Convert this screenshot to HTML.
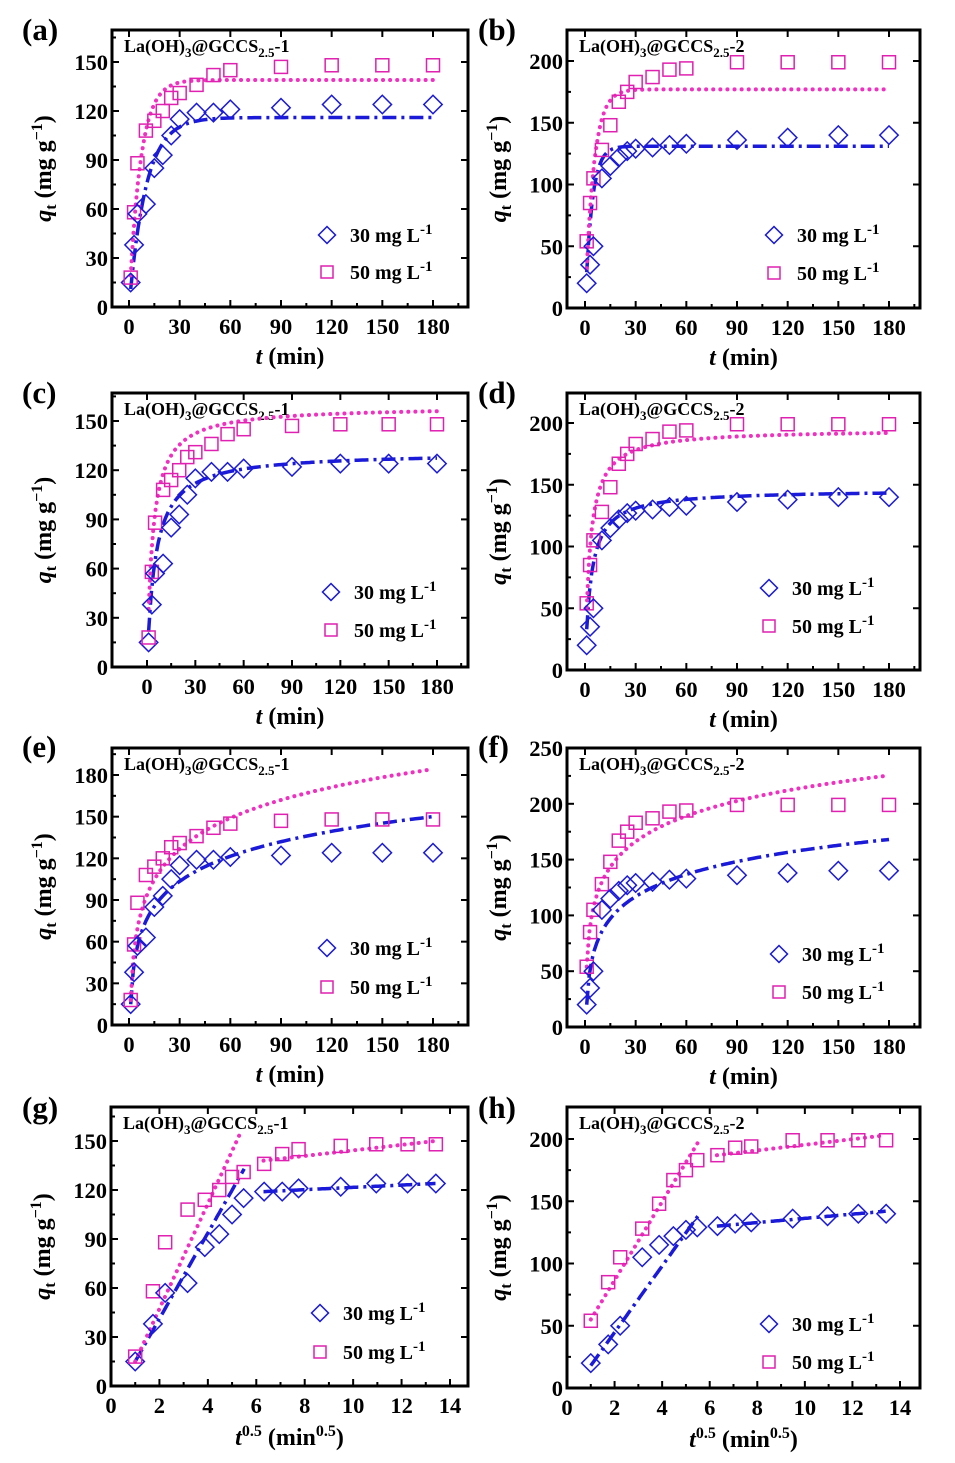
<!DOCTYPE html><html><head><meta charset="utf-8"><style>body{margin:0;background:#fff}svg{display:block}text{font-family:"Liberation Serif",serif;font-weight:bold}</style></head><body>
<svg id="s" width="955" height="1463" xmlns="http://www.w3.org/2000/svg"></svg>
<script>
const S=document.getElementById('s');let h='';
const T=[1,3,5,10,15,20,25,30,40,50,60,90,120,150,180];
const A30=[15,38,57,63,85,93,105,115,119,119,121,122,124,124,124],A50=[18,58,88,108,114,120,128,131,136,142,145,147,148,148,148];
const B30=[20,35,50,105,115,122,127,129,130,132,133,136,138,140,140],B50=[54,85,105,128,148,167,175,183,187,193,194,199,199,199,199];
function panel(o){
 const [L,R,Tp,B]=o.f; const X=v=>o.x0+(v)*(o.x1-o.x0)/o.xv, Y=v=>o.y0-(v)*(o.y0-o.y1)/o.yv;
 let g='';
 g+=`<rect x="${L}" y="${Tp}" width="${R-L}" height="${B-Tp}" fill="none" stroke="#000" stroke-width="3"/>`;
 o.xt.forEach(v=>{const x=X(v);g+=`<line x1="${x}" x2="${x}" y1="${B}" y2="${B-7}" stroke="#000" stroke-width="2"/><line x1="${x}" x2="${x}" y1="${Tp}" y2="${Tp+7}" stroke="#000" stroke-width="2"/><text x="${x}" y="${B+27}" font-size="22.5" text-anchor="middle">${v}</text>`;
  const m=X(v+o.xm/2);if(m<R-2)g+=`<line x1="${m}" x2="${m}" y1="${B}" y2="${B-4}" stroke="#000" stroke-width="2"/>`;});
 o.yt.forEach(v=>{const y=Y(v);g+=`<line x1="${L}" x2="${L+7}" y1="${y}" y2="${y}" stroke="#000" stroke-width="2"/><line x1="${R}" x2="${R-7}" y1="${y}" y2="${y}" stroke="#000" stroke-width="2"/><text x="${L-4}" y="${y+8}" font-size="22.5" text-anchor="end">${v}</text>`;
  const m=Y(v+o.ym/2);if(m>Tp+2)g+=`<line x1="${L}" x2="${L+4}" y1="${m}" y2="${m}" stroke="#000" stroke-width="2"/>`;});
 g+=`<text x="${o.lab[0]}" y="${o.lab[1]}" font-size="31">(${o.n})</text>`;
 g+=`<text x="${L+12}" y="${Tp+22}" font-size="18">La(OH)<tspan font-size="13" dy="5">3</tspan><tspan dy="-5">@GCCS</tspan><tspan font-size="13" dy="5">2.5</tspan><tspan dy="-5">-${o.k}</tspan></text>`;
 const cy=(Tp+B)/2;
 g+=`<text transform="translate(${L-61},${cy}) rotate(-90)" font-size="24" text-anchor="middle"><tspan font-style="italic">q</tspan><tspan font-size="16" dy="5">t</tspan><tspan dy="-5"> (mg g</tspan><tspan font-size="16" dy="-9">−1</tspan><tspan dy="9">)</tspan></text>`;
 const xl=(L+R)/2;
 g+= o.sq? `<text x="${xl}" y="${B+59}" font-size="24" text-anchor="middle"><tspan font-style="italic">t</tspan><tspan font-size="16" dy="-9">0.5</tspan><tspan dy="9"> (min</tspan><tspan font-size="16" dy="-9">0.5</tspan><tspan dy="9">)</tspan></text>`
  : `<text x="${xl}" y="${B+57}" font-size="24" text-anchor="middle"><tspan font-style="italic">t</tspan> (min)</text>`;
 const pl=(f,st,dash,xs)=>{let p=xs.map(v=>X(v).toFixed(1)+','+Y(f(v)).toFixed(1)).join(' ');g+=`<polyline points="${p}" fill="none" stroke="${st}" stroke-width="${dash?3.5:4}" ${dash?'stroke-dasharray="14,5,3,5"':'stroke-dasharray="0.1,7" stroke-linecap="round"'}/>`;};
 o.fits.forEach(ft=>{const xs=[];for(let v=ft.a;v<=ft.b+1e-9;v+=(ft.b-ft.a)/120)xs.push(v);pl(ft.fn,ft.c,ft.d,xs);});
 const tx=o.sq?T.map(Math.sqrt):T;
 tx.forEach((t,i)=>{const x=X(t),y=Y(o.d30[i]);g+=`<rect x="${x-6.5}" y="${y-6.5}" width="13" height="13" transform="rotate(45 ${x} ${y})" fill="none" stroke="#1a1ad8" stroke-width="1.5"/>`;
  const y2=Y(o.d50[i]);g+=`<rect x="${x-6.5}" y="${y2-6.5}" width="13" height="13" fill="none" stroke="#e020b0" stroke-width="1.5"/>`;});
 const [lx,ly1,ly2]=o.lg;
 g+=`<rect x="${lx-6}" y="${ly1-6}" width="12" height="12" transform="rotate(45 ${lx} ${ly1})" fill="none" stroke="#1a1ad8" stroke-width="1.5"/><text x="${lx+23}" y="${ly1+7}" font-size="20">30 mg L<tspan font-size="15" dy="-8">-1</tspan></text>`;
 g+=`<rect x="${lx-6}" y="${ly2-6}" width="12" height="12" fill="none" stroke="#e020b0" stroke-width="1.5"/><text x="${lx+23}" y="${ly2+7}" font-size="20">50 mg L<tspan font-size="15" dy="-8">-1</tspan></text>`;
 h+=g;
}
const BL='#1a1ad8',PK='#f030c0';
const pfo=(q,k)=>t=>q*(1-Math.exp(-k*t)), pso=(q,k)=>t=>q*q*k*t/(1+q*k*t), el=(a,b)=>t=>a+b*Math.log(t);
const lin=(x1,y1,x2,y2)=>x=>y1+(y2-y1)*(x-x1)/(x2-x1);
const xt=[0,30,60,90,120,150,180];
panel({n:'a',k:1,f:[112,468,30,307],x0:129,x1:433,xv:180,y0:307,y1:62,yv:150,xt,xm:30,yt:[0,30,60,90,120,150],ym:30,lab:[22,40],d30:A30,d50:A50,lg:[327,235,272],
 fits:[{fn:pfo(116,0.1),c:BL,d:1,a:1,b:180},{fn:pfo(139,0.15),c:PK,d:0,a:1,b:180}]});
panel({n:'b',k:2,f:[567,920,30,308],x0:585,x1:889,xv:180,y0:308,y1:61,yv:200,xt,xm:30,yt:[0,50,100,150,200],ym:50,lab:[478,40],d30:B30,d50:B50,lg:[774,235,273],
 fits:[{fn:pfo(131,0.25),c:BL,d:1,a:1,b:180},{fn:pfo(177,0.2),c:PK,d:0,a:1,b:180}]});
panel({n:'c',k:1,f:[112,468,393,667],x0:147,x1:437,xv:180,y0:667,y1:421,yv:150,xt,xm:30,yt:[0,30,60,90,120,150],ym:30,lab:[22,403],d30:A30,d50:A50,lg:[331,592,630],
 fits:[{fn:pso(131,0.0015),c:BL,d:1,a:1,b:180},{fn:pso(159,0.0018),c:PK,d:0,a:1,b:180}]});
panel({n:'d',k:2,f:[567,920,393,670],x0:585,x1:889,xv:180,y0:670,y1:423,yv:200,xt,xm:30,yt:[0,50,100,150,200],ym:50,lab:[478,403],d30:B30,d50:B50,lg:[769,588,626],
 fits:[{fn:pso(146,0.002),c:BL,d:1,a:1,b:180},{fn:pso(195,0.0018),c:PK,d:0,a:1,b:180}]});
panel({n:'e',k:1,f:[112,468,748,1025],x0:129,x1:433,xv:180,y0:1025,y1:775,yv:180,xt,xm:30,yt:[0,30,60,90,120,150,180],ym:30,lab:[22,757],d30:A30,d50:A50,lg:[327,948,987],
 fits:[{fn:el(15,26),c:BL,d:1,a:1,b:180},{fn:el(18,32),c:PK,d:0,a:1,b:180}]});
panel({n:'f',k:2,f:[567,920,748,1027],x0:585,x1:889,xv:180,y0:1027,y1:748,yv:250,xt,xm:30,yt:[0,50,100,150,200,250],ym:50,lab:[478,757],d30:B30,d50:B50,lg:[779,954,992],
 fits:[{fn:el(20,28.5),c:BL,d:1,a:1,b:180},{fn:el(54,33),c:PK,d:0,a:1,b:180}]});
const xg=[0,2,4,6,8,10,12,14];
panel({n:'g',k:1,sq:1,f:[111,468,1107,1386],x0:111,x1:450,xv:14,y0:1386,y1:1141,yv:150,xt:xg,xm:2,yt:[0,30,60,90,120,150],ym:30,lab:[22,1118],d30:A30,d50:A50,lg:[320,1313,1352],
 fits:[{fn:lin(1,15,5.5,133),c:BL,d:1,a:1,b:5.5},{fn:lin(6.3,119,13.4,124),c:BL,d:1,a:6.3,b:13.4},{fn:lin(1,15,5.5,160),c:PK,d:0,a:1,b:5.3},{fn:lin(6.3,138,13.4,150),c:PK,d:0,a:6.3,b:13.4}]});
panel({n:'h',k:2,sq:1,f:[567,920,1107,1388],x0:567,x1:900,xv:14,y0:1388,y1:1139,yv:200,xt:xg,xm:2,yt:[0,50,100,150,200],ym:50,lab:[478,1118],d30:B30,d50:B50,lg:[769,1324,1362],
 fits:[{fn:lin(1,18,5.5,138),c:BL,d:1,a:1,b:5.5},{fn:lin(6.3,130,13.4,142),c:BL,d:1,a:6.3,b:13.4},{fn:lin(1,55,5.5,197),c:PK,d:0,a:1,b:5.5},{fn:lin(6.3,187,13.4,203),c:PK,d:0,a:6.3,b:13.4}]});
S.innerHTML=h;
</script></body></html>
